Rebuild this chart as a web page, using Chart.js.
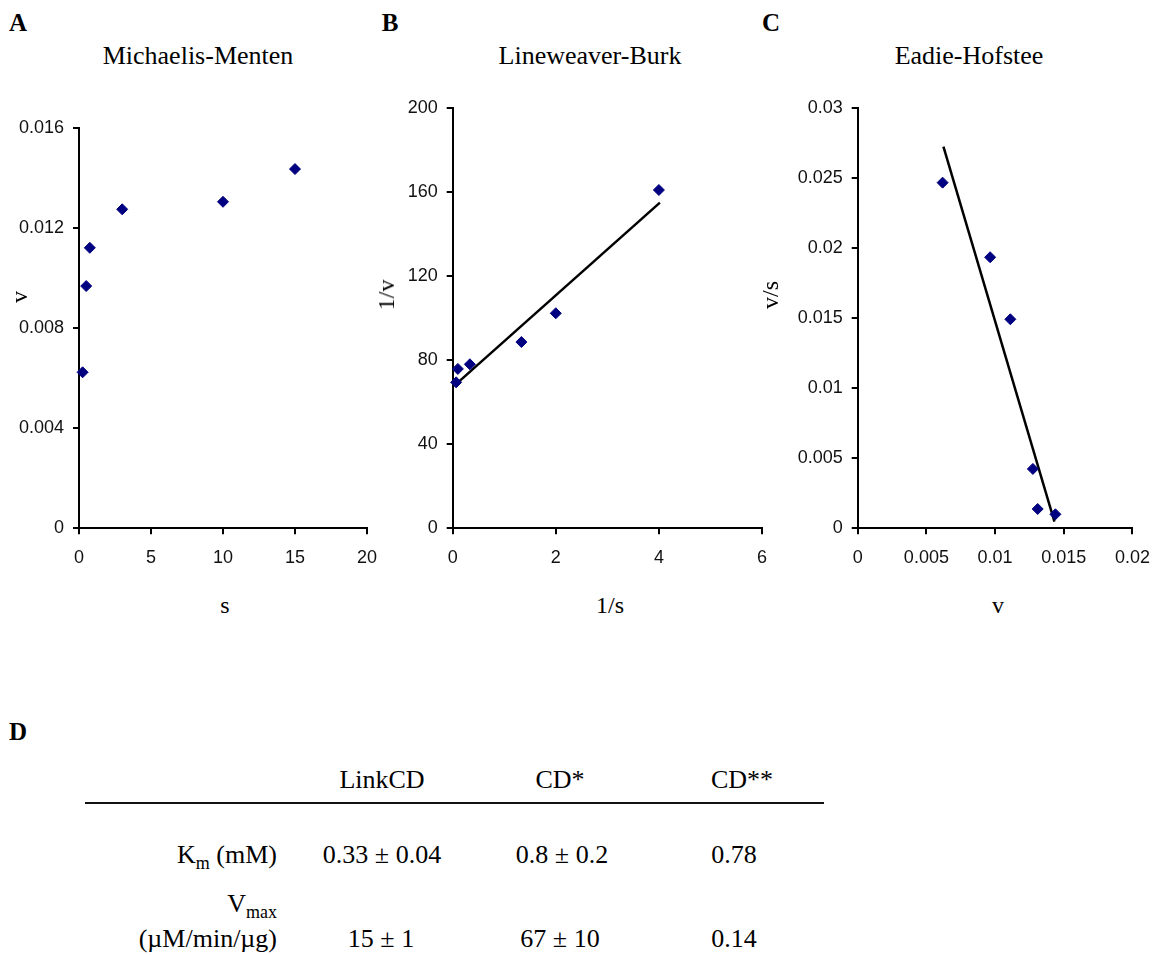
<!DOCTYPE html>
<html>
<head>
<meta charset="utf-8">
<title>Enzyme kinetics</title>
<script src="https://cdn.jsdelivr.net/npm/chart.js@4.4.0/dist/chart.umd.min.js"></script>
<style>
  body { margin: 0; background: #fff; }
  #fig { position: relative; width: 1163px; height: 955px; overflow: hidden;
         font-family: 'Liberation Serif', 'Times New Roman', serif; color: #000; }
  .t { position: absolute; white-space: nowrap; line-height: 1; transform: translate(-50%, -50%); }
  .r { position: absolute; white-space: nowrap; line-height: 1; transform: translate(-100%, -50%); }
  .rot { transform: translate(-50%, -50%) rotate(-90deg); }
  .letter { font-weight: bold; font-size: 25px; }
  .title { font-size: 26px; }
  .axt { font-size: 24px; }
  .cell { font-size: 26px; }
  sub { font-size: 18px; vertical-align: -6px; line-height: 0; }
  .box { position: absolute; top: 80px; height: 500px; }
  #rule { position: absolute; left: 85px; top: 802px; width: 739px; border-top: 2px solid #111; }
</style>
</head>
<body>
<div id="fig">
  <div class="t letter" style="left:18px;top:22px">A</div>
  <div class="t letter" style="left:390px;top:22px">B</div>
  <div class="t letter" style="left:771px;top:22px">C</div>

  <div class="t title" style="left:198px;top:56px">Michaelis-Menten</div>
  <div class="t title" style="left:590px;top:56px">Lineweaver-Burk</div>
  <div class="t title" style="left:969px;top:56px">Eadie-Hofstee</div>

  <div class="box" style="left:0;width:390px"><canvas id="mm" width="390" height="500"></canvas></div>
  <div class="box" style="left:380px;width:400px"><canvas id="lb" width="400" height="500"></canvas></div>
  <div class="box" style="left:760px;width:403px"><canvas id="eh" width="403" height="500"></canvas></div>

  <div class="t axt" style="left:225px;top:605px">s</div>
  <div class="t axt" style="left:610px;top:605px">1/s</div>
  <div class="t axt" style="left:998px;top:605px">v</div>
  <div class="t axt rot" style="left:19px;top:297px">v</div>
  <div class="t axt rot" style="left:386px;top:295px">1/v</div>
  <div class="t axt rot" style="left:770px;top:295px">v/s</div>

  <!-- D: kinetic constants -->
  <div class="t letter" style="left:18px;top:731px">D</div>
  <div class="t cell" style="left:382px;top:780px">LinkCD</div>
  <div class="t cell" style="left:560px;top:780px">CD*</div>
  <div class="t cell" style="left:742px;top:780px">CD**</div>
  <div id="rule"></div>
  <div class="r cell" style="left:277px;top:855px">K<sub>m</sub> (mM)</div>
  <div class="t cell" style="left:382px;top:855px">0.33 ± 0.04</div>
  <div class="t cell" style="left:562px;top:855px">0.8 ± 0.2</div>
  <div class="t cell" style="left:734px;top:855px">0.78</div>
  <div class="r cell" style="left:277px;top:904px">V<sub>max</sub></div>
  <div class="r cell" style="left:277px;top:939px">(µM/min/µg)</div>
  <div class="t cell" style="left:381px;top:939px">15 ± 1</div>
  <div class="t cell" style="left:560px;top:939px">67 ± 10</div>
  <div class="t cell" style="left:734px;top:939px">0.14</div>
</div>

<script>
// substrate concentration s and rate v
const sVals = [0.25, 0.5, 0.75, 3, 10, 15];
const vVals = [0.00624, 0.00969, 0.01122, 0.01276, 0.01306, 0.01437];

// double reciprocal
const invS = [4, 2, 1.333, 0.333, 0.1, 0.067];
const invV = [161.1, 102.4, 88.7, 78.1, 75.9, 69.5];
const lbFitX = [0.043, 4.02];
const lbFitY = [68.2, 155.1];

// v against v/s
const ehV = [0.00618, 0.00964, 0.01111, 0.01275, 0.0131, 0.01439];
const ehVs = [0.02469, 0.01936, 0.01493, 0.00424, 0.00138, 0.001];
const ehFitX = [0.00624, 0.01432];
const ehFitY = [0.02726, 0.00047];

// axis ticks
const mmXTicks = [0, 5, 10, 15, 20];
const mmXLabels = ['0', '5', '10', '15', '20'];
const mmYTicks = [0, 0.004, 0.008, 0.012, 0.016];
const mmYLabels = ['0', '0.004', '0.008', '0.012', '0.016'];
const lbXTicks = [0, 2, 4, 6];
const lbXLabels = ['0', '2', '4', '6'];
const lbYTicks = [0, 40, 80, 120, 160, 200];
const lbYLabels = ['0', '40', '80', '120', '160', '200'];
const ehXTicks = [0, 0.005, 0.01, 0.015, 0.02];
const ehXLabels = ['0', '0.005', '0.01', '0.015', '0.02'];
const ehYTicks = [0, 0.005, 0.01, 0.015, 0.02, 0.025, 0.03];
const ehYLabels = ['0', '0.005', '0.01', '0.015', '0.02', '0.025', '0.03'];

// a really narrow sans for the tick labels if there is one, else plain sans a bit smaller
function pickTickFont() {
  const ctx = document.createElement('canvas').getContext('2d');
  const width = (f) => { ctx.font = f; return ctx.measureText('0.0160.025').width; };
  const plain = width("21px 'Liberation Sans'");
  const narrow = ["'Liberation Sans Narrow'", "'DejaVu Sans Condensed'"];
  for (const fam of narrow) {
    if (width('21px ' + fam + ", 'Liberation Sans'") < plain * 0.88) return { family: fam, size: 21 };
  }
  return { family: "'Liberation Sans', Arial, sans-serif", size: 18 };
}
const tickFont = pickTickFont();
const pts = (xs, ys) => xs.map((x, i) => ({ x: x, y: ys[i] }));

function axis(vals, labels, horizontal, size) {
  return {
    type: 'linear',
    min: vals[0],
    max: vals[vals.length - 1],
    afterBuildTicks: (scale) => { scale.ticks = vals.map((v) => ({ value: v })); },
    afterFit: (scale) => {
      if (horizontal) scale.height = size; else scale.width = size;
    },
    grid: { drawOnChartArea: false, drawTicks: true, tickLength: 6, color: '#000', lineWidth: 2 },
    border: { display: true, color: '#000', width: 2 },
    ticks: {
      font: tickFont,
      color: '#111',
      padding: horizontal ? 13 : 9,
      maxRotation: 0,
      autoSkip: false,
      callback: (value, i) => labels[i],
    },
  };
}

function makeChart(id, points, fit, xAxis, yAxis, pad) {
  const datasets = [{
    data: points,
    pointStyle: 'rectRot',
    pointRadius: 5.5,
    backgroundColor: '#000080',
    borderColor: '#000080',
    borderWidth: 1,
    showLine: false,
    clip: false,
  }];
  if (fit) {
    datasets.push({
      data: fit,
      showLine: true,
      borderColor: '#000',
      borderWidth: 2.5,
      pointRadius: 0,
      fill: false,
      clip: false,
    });
  }
  return new Chart(document.getElementById(id), {
    type: 'scatter',
    data: { datasets },
    options: {
      responsive: false,
      animation: false,
      layout: { padding: pad },
      plugins: { legend: { display: false }, tooltip: { enabled: false } },
      scales: { x: xAxis, y: yAxis },
    },
  });
}

makeChart('mm', pts(sVals, vVals), null,
  axis(mmXTicks, mmXLabels, true, 51.7),
  axis(mmYTicks, mmYLabels, false, 79),
  { top: 48.3, right: 17, left: 0, bottom: 0 });

makeChart('lb', pts(invS, invV), pts(lbFitX, lbFitY),
  axis(lbXTicks, lbXLabels, true, 51.7),
  axis(lbYTicks, lbYLabels, false, 72.7),
  { top: 28.3, right: 10, left: 0, bottom: 0 });

makeChart('eh', pts(ehV, ehVs), pts(ehFitX, ehFitY),
  axis(ehXTicks, ehXLabels, true, 51.7),
  axis(ehYTicks, ehYLabels, false, 97.7),
  { top: 28.3, right: 20.3, left: 0, bottom: 0 });
</script>
</body>
</html>
